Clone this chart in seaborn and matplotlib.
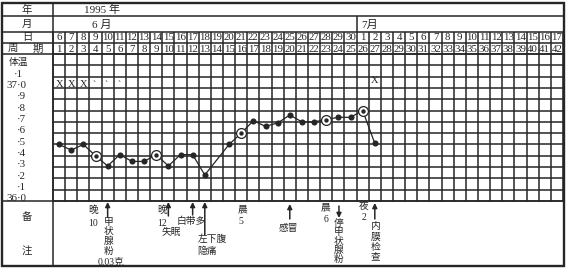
import numpy as np
import pandas as pd
import matplotlib
matplotlib.use("Agg")
import matplotlib.pyplot as plt
import matplotlib.transforms as mtransforms
import seaborn as sns

# ---------------- data ----------------
year_label = "1995 年"
month_labels = ["6 月", "7月"]
dates = list(range(6, 31)) + list(range(1, 18))
cycle_days = list(range(1, 43))

temp_cycle = [1, 2, 3, 4, 5, 6, 7, 8, 9, 10, 11, 12, 13,
              15, 16, 17, 18, 19, 20, 21, 22, 23, 24, 25, 26, 27]
temp_values = [36.45, 36.40, 36.45, 36.35, 36.26, 36.36, 36.30, 36.30, 36.36,
               36.26, 36.36, 36.36, 36.18,
               36.45, 36.55, 36.66, 36.61, 36.64, 36.71, 36.65, 36.65, 36.67,
               36.69, 36.69, 36.75, 36.46]
circled_cycle = [4, 9, 16, 23, 26]
x_mark_cycle = [1, 2, 3, 27]
small_mark_cycle = [4, 5, 6]

temp_tick_values = [37.1, 37.0, 36.9, 36.8, 36.7, 36.6, 36.5, 36.4, 36.3, 36.2, 36.1, 36.0]
temp_tick_labels = ["·1", "37·0", "·9", "·8", "·7", "·6", "·5", "·4", "·3", "·2", "·1", "36·0"]

# ---------------- style ----------------
sns.set_theme(style="white")
plt.rcParams["font.family"] = ["Liberation Serif", "Noto Sans CJK SC"]
INK = "#262626"
FONT = ["Liberation Serif", "Noto Sans CJK SC"]

W, H = 566, 268
fig = plt.figure(figsize=(W / 100, H / 100), dpi=100)
fig.patch.set_facecolor("white")

tab = fig.add_axes([0, 0, 1, 1])
tab.set_xlim(0, W)
tab.set_ylim(H, 0)
tab.axis("off")

GX0, GX1 = 53, 563
GY0, GY1 = 54, 201
ax = fig.add_axes([GX0 / W, 1 - GY1 / H, (GX1 - GX0) / W, (GY1 - GY0) / H])
ax.patch.set_alpha(0)
ax.set_xlim(0.5, 42.5)
ax.set_ylim(35.95, 37.25)
ax.axis("off")

bx = mtransforms.blended_transform_factory(ax.transData, tab.transData)

LW = 1.1
# outer border
L, R, T, B = 2, 564, 3, 266
tab.plot([L, R, R, L, L], [T, T, B, B, T], color=INK, lw=1.7, solid_joinstyle="miter")
# horizontal row separators of header
for y in [16, 32, 43, 54, 201]:
    tab.plot([L, R], [y, y], color=INK, lw=LW)
# left label column separator
tab.plot([GX0, GX0], [T, B], color=INK, lw=LW)

# month row separator (between June 30 and July 1)
tab.vlines(25.5, 16, 32, transform=bx, color=INK, lw=LW)
# day / cycle rows vertical lines
ks = np.arange(0.5, 43, 1.0)
tab.vlines(ks, 32, 54, transform=bx, color=INK, lw=LW)

# temperature grid
for k in ks:
    ax.axvline(k, color=INK, lw=LW, clip_on=False)
for v in np.arange(35.95, 37.26, 0.1):
    ax.axhline(v, color=INK, lw=LW, clip_on=False)

CJ = 7.5
DG = 7.8
# header texts
tab.text(27, 10, "年", ha="center", va="center", fontsize=CJ, family=FONT, color=INK)
tab.text(27, 24.5, "月", ha="center", va="center", fontsize=CJ, family=FONT, color=INK)
tab.text(27, 37.5, "日", ha="center", va="center", fontsize=CJ, family=FONT, color=INK)
tab.text(13, 48.5, "周", ha="center", va="center", fontsize=CJ, family=FONT, color=INK)
tab.text(38, 48.5, "期", ha="center", va="center", fontsize=CJ, family=FONT, color=INK)
tab.text(102, 10, year_label, ha="center", va="center", fontsize=8, family=FONT, color=INK)
tab.text(102, 24.5, month_labels[0], ha="center", va="center", fontsize=8, family=FONT, color=INK)
tab.text(370, 24.5, month_labels[1], ha="center", va="center", fontsize=8, family=FONT, color=INK)

for k, d in zip(cycle_days, dates):
    tab.text(k, 38, str(d), transform=bx, ha="center", va="center",
             fontsize=DG, family=FONT, color=INK)
    tab.text(k, 49, str(k), transform=bx, ha="center", va="center",
             fontsize=DG, family=FONT, color=INK)

# temperature axis labels
tab.text(18, 62, "体温", ha="center", va="center", fontsize=7, family=FONT, color=INK)
for v, lab in zip(temp_tick_values, temp_tick_labels):
    ypix = GY0 + (37.25 - (v - 0.03)) / 1.3 * (GY1 - GY0)
    if lab == "·1" and v > 37:
        tab.text(18, ypix, lab, ha="center", va="center", fontsize=DG, family=FONT, color=INK)
    else:
        tab.text(26, ypix, lab, ha="right", va="center", fontsize=DG, family=FONT, color=INK)

# X and small marks
for k in x_mark_cycle:
    yv = 36.98 if k < 10 else 37.02
    ax.text(k, yv, "X", ha="center", va="center", fontsize=7.5, family=FONT, color=INK)
for k in small_mark_cycle:
    ax.text(k - 0.1, 36.975, "ˋ", ha="center", va="center", fontsize=7, family=FONT, color=INK)

# temperature curve
df = pd.DataFrame({"cycle": temp_cycle, "temp": temp_values})
sns.lineplot(data=df, x="cycle", y="temp", ax=ax, color=INK, lw=0.9,
             marker="o", markersize=4.4, markeredgewidth=0, markerfacecolor=INK,
             legend=False)
dfc = df[df["cycle"].isin(circled_cycle)]
sns.scatterplot(data=dfc, x="cycle", y="temp", ax=ax, s=50, facecolor="white",
                edgecolor=INK, linewidth=0.9, zorder=4, legend=False)
sns.scatterplot(data=dfc, x="cycle", y="temp", ax=ax, s=10, color=INK,
                linewidth=0, zorder=5, legend=False)
ax.set_xlim(0.5, 42.5)
ax.set_ylim(35.95, 37.25)
ax.axis("off")

# remarks column labels
tab.text(27, 217, "备", ha="center", va="center", fontsize=CJ, family=FONT, color=INK)
tab.text(27, 252, "注", ha="center", va="center", fontsize=CJ, family=FONT, color=INK)

NF = 7.0


def note(x, y, s, ha="center", va="center"):
    tab.text(x, y, s, transform=bx, ha=ha, va=va, fontsize=NF, family=FONT, color=INK)


def vnote(x, y0, s, step):
    for i, ch in enumerate(s):
        note(x, y0 + i * step, ch)


def arrow(x, y_tail, y_head):
    tab.annotate("", xy=(x, y_head), xytext=(x, y_tail), xycoords=bx, textcoords=bx,
                 arrowprops=dict(arrowstyle="-|>", color=INK, lw=1.1,
                                 mutation_scale=7, shrinkA=0, shrinkB=0))


# cycle 5
note(3.8, 210, "晚")
note(3.8, 223, "10")
arrow(5, 217, 202)
vnote(5.05, 222, "甲状腺粉", 9.7)
note(5.3, 262, "0.03克")
# cycle 10
note(9.45, 210, "晚")
note(9.5, 223, "12")
arrow(10, 216, 202)
note(10.25, 233, "失眠")
# cycle 12
arrow(12, 215, 202)
note(11.9, 221, "白带多")
# cycle 13
arrow(13, 235, 202)
note(12.4, 239, "左下腹", ha="left")
note(12.4, 251, "隐痛", ha="left")
# cycle 16
note(16.1, 210, "晨")
note(16.0, 222, "5")
# cycle 20
arrow(20, 219, 204)
note(19.85, 228, "感冒")
# cycle 23
note(22.95, 208, "晨")
note(22.95, 220, "6")
# cycle 24
arrow(24.05, 206, 218)
vnote(24.05, 223.5, "停甲状腺粉", 9.0)
# cycle 26
note(26.05, 206, "夜")
note(26.1, 218, "2")
# cycle 27
arrow(27.0, 219, 203)
vnote(27.05, 227, "内膜检查", 10.0)

fig.savefig("out.png", dpi=100, facecolor="white")
